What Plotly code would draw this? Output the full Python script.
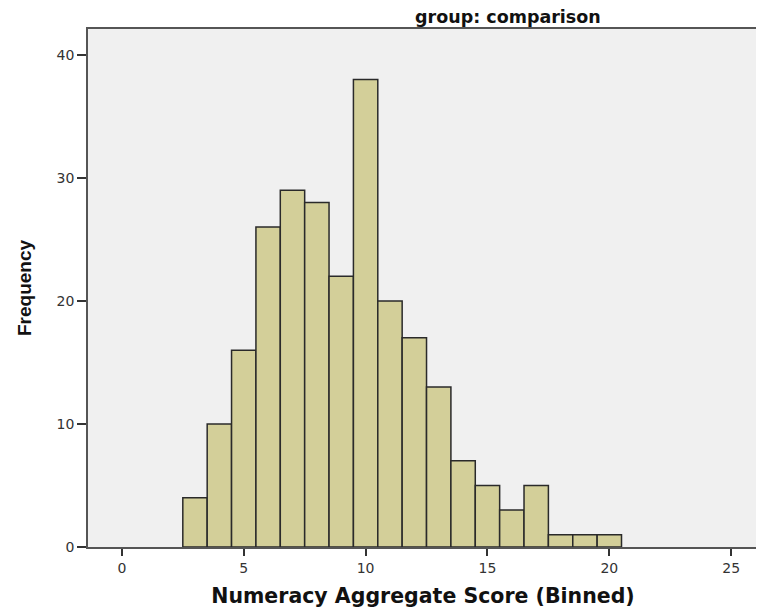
import plotly.graph_objects as go

scores = [3, 4, 5, 6, 7, 8, 9, 10, 11, 12, 13, 14, 15, 16, 17, 18, 19, 20]
freqs = [4, 10, 16, 26, 29, 28, 22, 38, 20, 17, 13, 7, 5, 3, 5, 1, 1, 1]
x_ticks = [0, 5, 10, 15, 20, 25]
y_ticks = [0, 10, 20, 30, 40]

# page body has an 8px margin, so the figure is drawn 8px in from the top-left
W, H = 756, 603
L, R, T, B = 80, 4, 21, 64

fig = go.Figure(go.Bar(
    x=scores, y=freqs, width=1,
    marker=dict(color="#d3cf99", line=dict(color="#2a2a2a", width=1.5)),
))

fig.update_layout(
    width=W, height=H,
    margin=dict(l=L, r=R, t=T, b=B),
    paper_bgcolor="white", plot_bgcolor="#f0f0f0",
    showlegend=False,
    font=dict(family="DejaVu Sans, Verdana, sans-serif", color="#222222"),
    annotations=[dict(
        text="<b>group: comparison</b>", xref="paper", yref="paper",
        x=(509 - 8 - L) / (W - L - R), y=1.0, xanchor="center", yanchor="bottom",
        showarrow=False, font=dict(size=17.5, color="#111111", family="DejaVu Sans"),
    )],
)

fig.update_xaxes(
    range=[-1.39, 26.1], tickvals=x_ticks, ticks="outside", ticklen=7, tickwidth=1.5,
    tickcolor="#333333", showgrid=False, zeroline=False,
    showline=True, linecolor="#555555", linewidth=1.5, mirror=True,
    tickfont=dict(size=14, color="#333333", family="DejaVu Sans"),
    title=dict(text="<b>Numeracy Aggregate Score (Binned)</b>",
               font=dict(size=20.5, color="#111111", family="DejaVu Sans"), standoff=14),
)
fig.update_yaxes(
    range=[0, 42.1], tickvals=y_ticks, ticks="outside", ticklen=9, tickwidth=1.5,
    tickcolor="#333333", showgrid=False, zeroline=False,
    showline=True, linecolor="#555555", linewidth=1.5, mirror=True,
    tickfont=dict(size=14, color="#333333", family="DejaVu Sans"),
    title=dict(text="<b>Frequency</b>",
               font=dict(size=19, color="#111111",
                         family="Liberation Sans Narrow, Liberation Sans, Arial"),
               standoff=20),
)

fig.write_html("out.html")
